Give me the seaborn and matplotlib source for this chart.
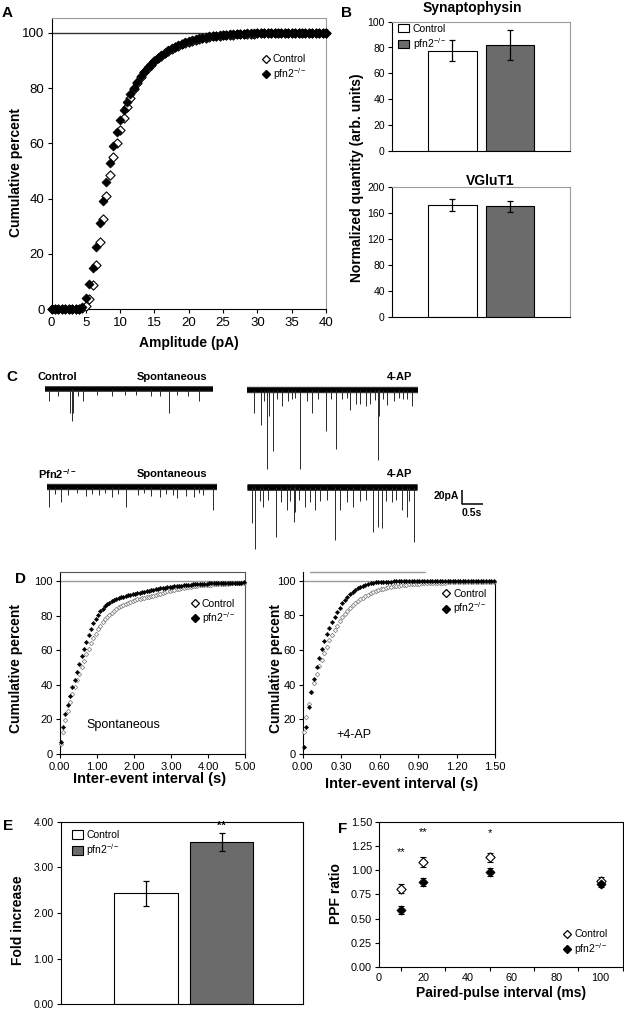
import numpy as np
import pandas as pd
import matplotlib
matplotlib.use("Agg")
import matplotlib.pyplot as plt
import seaborn as sns
from matplotlib.lines import Line2D
from matplotlib.patches import Patch
from matplotlib.ticker import FormatStrFormatter

# ------------------------------------------------------------------ data
GROUPS = ["Control", "pfn2"]
PFN2_LABEL = r"pfn2$^{-/-}$"

# Panel A: cumulative amplitude distribution (bins every 0.5 pA)
A_AMP = np.arange(0, 40.5, 0.5)
A_PFN2 = ([0] * 9 +
          [0.8, 4, 9, 15, 22.5, 31, 39, 46, 53, 59,
           64, 68.5, 72, 75, 78, 80.2, 82.4, 84.3, 86, 87.5,
           88.8, 90, 91, 92, 92.9, 93.7, 94.4, 95, 95.6, 96.1,
           96.6, 97, 97.4, 97.7, 98, 98.3, 98.5, 98.7, 98.9, 99.0,
           99.2, 99.3, 99.4, 99.5, 99.6, 99.6, 99.7, 99.7, 99.8, 99.8,
           99.8, 99.9] +
          [99.9, 99.9, 99.9, 99.9] + [100] * 16)
A_CONTROL = ([0] * 9 +
             [0.3, 1.1, 3.6, 8.7, 16, 24.4, 32.6, 41, 48.4, 55,
              60, 65, 69, 73, 76.6, 79.6, 82, 84, 85.7, 87.2,
              88.5, 89.7, 90.8, 91.8, 92.7, 93.5, 94.2, 94.8, 95.4, 95.9,
              96.4, 96.8, 97.2, 97.5, 97.8, 98.1, 98.3, 98.5, 98.7, 98.9,
              99.0, 99.1, 99.2, 99.3, 99.4, 99.5, 99.5, 99.6, 99.6, 99.7,
              99.7, 99.8] +
             [99.8, 99.8, 99.9, 99.9, 99.9, 99.9] + [100] * 14)

# Panel B: normalized quantities
SYN_MEAN = [77.5, 82.0]
SYN_ERR = [8.0, 11.5]
VGLUT_MEAN = [173.0, 171.0]
VGLUT_ERR = [9.0, 8.5]

# Panel C: trace events (time s, amplitude pA) and trace length
TRACE_DUR = [3.87, 3.95, 3.93, 3.92]
C_CTRL_SPONT_T = [0.09, 0.58, 0.62, 0.65, 0.87, 2.86, 3.55,
                  0.30, 1.20, 1.55, 2.10, 2.45, 3.05, 3.30, 0.75, 1.85, 2.65]
C_CTRL_SPONT_A = [17, 33, 44, 33, 17, 33, 17,
                  9, 8, 9, 8, 9, 8, 9, 10, 8, 9]
C_CTRL_4AP_T = [0.17, 0.32, 0.46, 0.51, 0.61, 0.81, 1.23, 1.51, 1.83, 2.06,
                2.38, 2.52, 2.61, 2.75, 2.84, 3.03, 3.05, 3.23, 3.82,
                0.40, 0.95, 1.40, 1.65, 2.20, 3.40, 3.60, 1.05, 2.95,
                0.70, 1.12, 1.95, 2.30, 3.15, 3.50, 3.70]
C_CTRL_4AP_A = [32, 49, 110, 37, 86, 23, 110, 32, 58, 82,
                28, 20, 20, 22, 20, 98, 36, 21, 23,
                15, 15, 15, 12, 12, 15, 12, 13, 14,
                12, 11, 12, 11, 12, 11, 12]
C_PFN2_SPONT_T = [0.06, 0.33, 1.83, 3.00, 3.84,
                  0.50, 0.90, 1.20, 1.50, 2.10, 2.40, 2.60, 2.90, 3.20, 3.40, 3.60,
                  0.20, 0.70, 1.05, 1.35, 1.65, 2.25, 2.75, 3.50]
C_PFN2_SPONT_A = [28, 22, 28, 16, 33,
                  12, 13, 12, 14, 12, 13, 14, 12, 13, 14, 12,
                  10, 9, 10, 9, 10, 9, 10, 9]
C_PFN2_4AP_T = [0.13, 0.18, 0.38, 0.68, 0.92, 1.09, 1.11, 1.34, 1.57, 2.03,
                2.15, 2.46, 2.92, 3.03, 3.11, 3.57, 3.69, 3.86,
                0.30, 0.50, 0.80, 1.00, 1.20, 1.45, 1.70, 1.85, 2.30, 2.60,
                2.75, 3.20, 3.35, 3.45, 3.75]
C_PFN2_4AP_A = [51, 87, 28, 70, 33, 49, 35, 28, 33, 74,
                33, 28, 63, 56, 58, 33, 42, 78,
                20, 18, 22, 20, 18, 22, 20, 18, 22, 20,
                18, 20, 22, 18, 20]
SCALE_T, SCALE_PA = 0.5, 20

# Panel D: cumulative inter-event interval distributions
D_SP_T = 0.03 + 0.0625 * np.arange(80)
D_SP_PFN2 = [6.7, 15.5, 23, 28.5, 33.5, 38.5, 43, 47.5, 52, 56.5,
             61, 65, 68.8, 72.3, 75.5, 78.3, 80.6, 82.5, 84.1, 85.5,
             86.6, 87.5, 88.3, 89, 89.6, 90.1, 90.6, 91.1, 91.5, 91.9,
             92.2, 92.5, 92.8, 93.0, 93.3, 93.5, 93.8, 94.1, 94.4, 94.7,
             95.0, 95.3, 95.5, 95.8, 96.0, 96.2, 96.4, 96.6, 96.7, 96.9,
             97.1, 97.3, 97.4, 97.6, 97.7, 97.9, 98.0, 98.1, 98.2, 98.3,
             98.4, 98.5, 98.6, 98.6, 98.7, 98.7, 98.8, 98.8, 98.9, 98.9,
             99.0, 99.0, 99.0, 99.1, 99.1, 99.1, 99.2, 99.2, 99.2, 99.3]
D_SP_CONTROL = [5.5, 12.5, 19.5, 25, 30, 34.5, 38.8, 42.8, 46.5, 50.3,
                54, 57.6, 61, 64.1, 67, 69.7, 72.1, 74.2, 76.1, 77.8,
                79.3, 80.6, 81.8, 82.9, 83.9, 84.8, 85.6, 86.3, 87, 87.6,
                88.1, 88.6, 89.0, 89.4, 89.7, 90.0, 90.3, 90.6, 90.9, 91.2,
                91.6, 92.0, 92.4, 92.8, 93.2, 93.6, 94.0, 94.3, 94.6, 94.9,
                95.2, 95.5, 95.8, 96.1, 96.4, 96.6, 96.8, 97.0, 97.2, 97.4,
                97.5, 97.6, 97.7, 97.8, 97.9, 98.0, 98.1, 98.2, 98.3, 98.4,
                98.5, 98.6, 98.6, 98.7, 98.8, 98.8, 98.9, 98.9, 99.0, 99.0]
D_AP_T = 0.01 + 0.02 * np.arange(75)
D_AP_PFN2 = [4, 15.5, 27, 36, 43.5, 50, 55.5, 60.5, 65, 69,
             72.5, 76, 79, 82, 84.5, 87, 89, 90.8, 92.4, 93.7,
             94.8, 95.7, 96.5, 97.1, 97.7, 98.1, 98.5, 98.8, 99.0, 99.2,
             99.3, 99.4, 99.5,
             99.5, 99.5, 99.6, 99.6, 99.6, 99.6, 99.7, 99.7, 99.7, 99.7,
             99.7, 99.7, 99.8, 99.8, 99.8, 99.8, 99.8, 99.8, 99.8, 99.8,
             99.8, 99.8, 99.8, 99.8, 99.9, 99.9, 99.9, 99.9, 99.9, 99.9,
             99.9, 99.9, 99.9, 99.9, 99.9, 99.9, 99.9, 99.9, 99.9, 99.9,
             99.9, 99.9]
D_AP_CONTROL = [12.5, 21.5, 29, 35.5, 41, 46, 50.5, 54.5, 58.5, 62,
                65.5, 68.5, 71.5, 74, 76.5, 78.8, 80.8, 82.6, 84.2, 85.7,
                87, 88.2, 89.3, 90.3, 91.2, 92, 92.7, 93.4, 94, 94.5,
                95, 95.4, 95.8, 96.1, 96.4, 96.7, 97, 97.2, 97.4, 97.6,
                97.8, 97.9, 98.0, 98.1, 98.2, 98.3, 98.4, 98.5, 98.6, 98.6,
                98.7,
                98.7, 98.8, 98.8, 98.9, 98.9, 99.0, 99.0, 99.0, 99.1, 99.1,
                99.1, 99.2, 99.2, 99.2, 99.3, 99.3, 99.3, 99.4, 99.4, 99.4,
                99.4, 99.5, 99.5, 99.5]

# Panel E: fold increase
E_MEAN = [2.43, 3.55]
E_ERR = [0.27, 0.20]
E_SIG = [(1, 3.92, "**")]

# Panel F: paired-pulse ratio
F_INTERVAL = [10, 20, 50, 100]
F_CONTROL = [0.81, 1.08, 1.13, 0.89]
F_CONTROL_ERR = [0.05, 0.05, 0.05, 0.04]
F_PFN2 = [0.59, 0.88, 0.98, 0.86]
F_PFN2_ERR = [0.04, 0.04, 0.04, 0.03]
F_SIG = [(10, 1.19, "**"), (20, 1.39, "**"), (50, 1.38, "*")]

# ------------------------------------------------------------------ style
W, H = 624, 1009
sns.set_style("white")
plt.rcParams.update({
    "font.family": ["Liberation Sans", "DejaVu Sans"],
    "mathtext.default": "regular",
    "axes.edgecolor": "black", "axes.linewidth": 0.8,
    "xtick.bottom": True, "ytick.left": True,
    "xtick.direction": "out", "ytick.direction": "out",
    "xtick.major.size": 3, "ytick.major.size": 3,
    "xtick.minor.size": 3, "xtick.minor.width": 0.8,
    "xtick.major.width": 0.8, "ytick.major.width": 0.8,
    "xtick.color": "black", "ytick.color": "black",
    "text.color": "black", "axes.labelcolor": "black",
    "xtick.major.pad": 2.5, "ytick.major.pad": 2,
})
GRAY = "#6b6b6b"
fig = plt.figure(figsize=(W / 100, H / 100), dpi=100)


def px_axes(x0, y0, x1, y1):
    return fig.add_axes([x0 / W, 1 - y1 / H, (x1 - x0) / W, (y1 - y0) / H])


def fig_text(x, y, s, **kw):
    fig.text(x / W, 1 - y / H, s, **kw)


def frame(ax, color):
    for sp in ("top", "right"):
        ax.spines[sp].set_color(color)


def marker_legend(ax, anchor, size=7.5, ms=5.5):
    handles = [Line2D([], [], ls="none", marker="D", ms=ms * 0.75, mfc="white",
                      mec="black", mew=0.9),
               Line2D([], [], ls="none", marker="D", ms=ms * 0.75, mfc="black",
                      mec="black")]
    ax.legend(handles, ["Control", PFN2_LABEL], loc="upper right",
              bbox_to_anchor=anchor, frameon=False, fontsize=size,
              handletextpad=0.2, borderpad=0, borderaxespad=0,
              labelspacing=0.15, handlelength=1.0)


def bar_legend(ax, anchor, size=7.5):
    handles = [Patch(facecolor="white", edgecolor="black", lw=0.8),
               Patch(facecolor=GRAY, edgecolor="black", lw=0.8)]
    ax.legend(handles, ["Control", PFN2_LABEL], loc="upper left",
              bbox_to_anchor=anchor, frameon=False, fontsize=size,
              handletextpad=0.3, borderpad=0, borderaxespad=0,
              labelspacing=0.2, handlelength=1.1, handleheight=0.9)


# ------------------------------------------------------------------ panel A
axA = px_axes(51.5, 18, 326, 309)
sns.scatterplot(x=A_AMP, y=A_CONTROL, marker="D", s=22, color="white",
                edgecolor="black", linewidth=0.8, ax=axA, zorder=3, clip_on=False)
sns.scatterplot(x=A_AMP, y=A_PFN2, marker="D", s=22, color="black",
                edgecolor="black", linewidth=0.4, ax=axA, zorder=4, clip_on=False)
axA.axhline(100, color="#333333", lw=1.0, zorder=2)
axA.set_xlim(0, 40)
axA.set_ylim(0, 105.4)
axA.set_xticks(range(0, 41, 5))
axA.set_yticks(range(0, 101, 20))
axA.tick_params(labelsize=9.5)
frame(axA, "#9a9a9a")
axA.set_ylabel("Cumulative percent", fontsize=10, fontweight="bold")
axA.set_xlabel("Amplitude (pA)", fontsize=10, fontweight="bold", va="top")
axA.yaxis.set_label_coords(-0.104, 0.469)
axA.xaxis.set_label_coords(0.5, -0.094)
marker_legend(axA, (0.93, 0.875))

# ------------------------------------------------------------------ panel B
def bar_panel(ax, means, errs, ylim, yticks, tick_size):
    df = pd.DataFrame({"group": GROUPS, "value": means})
    sns.barplot(data=df, x="group", y="value", hue="group",
                palette={"Control": "white", "pfn2": GRAY}, width=0.84,
                edgecolor="black", linewidth=0.8, legend=False, ax=ax)
    ax.errorbar(range(len(means)), means, yerr=errs, fmt="none", ecolor="black",
                elinewidth=0.9, capsize=2.5, capthick=0.9, zorder=5)
    ax.set_ylim(*ylim)
    ax.set_yticks(yticks)
    ax.set_xticks([])
    ax.set_xlabel("")
    ax.set_ylabel("")
    ax.tick_params(labelsize=tick_size)


axB1 = px_axes(391.7, 21.7, 570, 150.7)
bar_panel(axB1, SYN_MEAN, SYN_ERR, (0, 100), range(0, 101, 20), 7.5)
axB1.set_xlim(-1.06, 2.05)
frame(axB1, "#9a9a9a")
bar_legend(axB1, (0.035, 0.985))

axB2 = px_axes(391.7, 187.3, 570, 317.3)
bar_panel(axB2, VGLUT_MEAN, VGLUT_ERR, (0, 200), range(0, 201, 40), 7.5)
axB2.set_xlim(-1.06, 2.05)
frame(axB2, "#9a9a9a")

fig_text(472, 8, "Synaptophysin", fontsize=10, fontweight="bold", ha="center", va="center")
fig_text(490, 181, "VGluT1", fontsize=10, fontweight="bold", ha="center", va="center")
fig_text(357.5, 177.5, "Normalized quantity (arb. units)", fontsize=10,
         fontweight="bold", rotation=90, ha="center", va="center")

# ------------------------------------------------------------------ panel C
PX_PER_S = 43.4
PX_PER_PA = 0.715
Y_TOP, Y_BOT = 15, -115


def trace_ax(x0, base, xmax):
    ax = px_axes(x0, base - Y_TOP * PX_PER_PA, x0 + xmax * PX_PER_S,
                 base - Y_BOT * PX_PER_PA)
    ax.set_xlim(0, xmax)
    ax.set_ylim(Y_BOT, Y_TOP)
    ax.axis("off")
    return ax


def draw_trace(ax, dur, ts, amps, band):
    ax.hlines(0, 0, dur, color="#3a3a3a", lw=band + 1.6, capstyle="butt")
    ax.hlines(0, 0, dur, color="black", lw=band, capstyle="butt")
    ax.vlines(ts, -np.asarray(amps), 0, color="#2a2a2a", lw=0.7)


ax_c1 = trace_ax(45, 389.3, TRACE_DUR[0])
draw_trace(ax_c1, TRACE_DUR[0], C_CTRL_SPONT_T, C_CTRL_SPONT_A, 2.6)
ax_c2 = trace_ax(246.7, 390, TRACE_DUR[1])
draw_trace(ax_c2, TRACE_DUR[1], C_CTRL_4AP_T, C_CTRL_4AP_A, 3.0)
ax_c3 = trace_ax(46.7, 486.7, TRACE_DUR[2])
draw_trace(ax_c3, TRACE_DUR[2], C_PFN2_SPONT_T, C_PFN2_SPONT_A, 3.0)
ax_c4 = trace_ax(246.7, 486.7, 5.6)
draw_trace(ax_c4, TRACE_DUR[3], C_PFN2_4AP_T, C_PFN2_4AP_A, 3.4)
# scale bar
sb_t0, sb_y0 = 4.95, -24.6
ax_c4.plot([sb_t0, sb_t0, sb_t0 + SCALE_T], [sb_y0 + SCALE_PA, sb_y0, sb_y0],
           color="black", lw=1.1, solid_capstyle="butt")
ax_c4.text(sb_t0 - 0.06, sb_y0 + SCALE_PA * 0.6, f"{SCALE_PA}pA", fontsize=7.5,
           fontweight="bold", ha="right", va="center")
ax_c4.text(sb_t0 + SCALE_T * 0.45, sb_y0 - 12.5, f"{SCALE_T}s", fontsize=7.5,
           fontweight="bold", ha="center", va="center")

fig_text(37, 377, "Control", fontsize=8, fontweight="bold", ha="left", va="center")
fig_text(207, 377, "Spontaneous", fontsize=8, fontweight="bold", ha="right", va="center")
fig_text(412, 377, "4-AP", fontsize=8, fontweight="bold", ha="right", va="center")
fig_text(38, 474, r"Pfn2$^{-/-}$", fontsize=8, fontweight="bold", ha="left", va="center")
fig_text(207, 474, "Spontaneous", fontsize=8, fontweight="bold", ha="right", va="center")
fig_text(412, 474, "4-AP", fontsize=8, fontweight="bold", ha="right", va="center")

# ------------------------------------------------------------------ panel D
def cdf_panel(ax, t, ctrl, pfn2):
    sns.scatterplot(x=t, y=ctrl, marker="D", s=5, color="white",
                    edgecolor="#8a8a8a", linewidth=0.6, ax=ax, zorder=3, clip_on=False)
    sns.scatterplot(x=t, y=pfn2, marker="D", s=5, color="black",
                    edgecolor="black", linewidth=0.3, ax=ax, zorder=4, clip_on=False)
    ax.axhline(100, color="#9a9a9a", lw=1.0, zorder=2)
    ax.set_yticks(range(0, 101, 20))
    ax.tick_params(labelsize=8)
    ax.xaxis.set_major_formatter(FormatStrFormatter("%.2f"))
    ax.set_ylabel("Cumulative percent", fontsize=10, fontweight="bold")
    ax.set_xlabel("Inter-event interval (s)", fontsize=10.5, fontweight="bold", va="top")


axD1 = px_axes(59.7, 572.3, 245, 754)
cdf_panel(axD1, D_SP_T, D_SP_CONTROL, D_SP_PFN2)
axD1.set_xlim(0, 5)
axD1.set_ylim(0, 105.1)
axD1.set_xticks(np.arange(0, 5.01, 1.0))
frame(axD1, "#555555")
axD1.yaxis.set_label_coords(-0.198, 0.47)
axD1.xaxis.set_label_coords(0.487, -0.1)
axD1.text(0.145, 0.16, "Spontaneous", transform=axD1.transAxes, fontsize=9,
          ha="left", va="center")
marker_legend(axD1, (0.95, 0.855))

axD2 = px_axes(302.5, 571.7, 495, 754)
cdf_panel(axD2, D_AP_T, D_AP_CONTROL, D_AP_PFN2)
axD2.set_xlim(0, 1.5)
axD2.set_ylim(0, 105.2)
axD2.set_xticks(np.arange(0, 1.51, 0.3))
axD2.spines["top"].set_visible(False)
axD2.spines["right"].set_bounds(0, 100)
axD2.plot([0.04, 0.636], [1, 1], transform=axD2.transAxes, color="#9a9a9a",
          lw=1.0, clip_on=False)
axD2.yaxis.set_label_coords(-0.1, 0.47)
axD2.xaxis.set_label_coords(0.515, -0.125)
axD2.text(0.175, 0.105, "+4-AP", transform=axD2.transAxes, fontsize=9,
          ha="left", va="center")
marker_legend(axD2, (0.96, 0.905))

# ------------------------------------------------------------------ panel E
axE = px_axes(60.7, 821.7, 303.3, 1004.3)
bar_panel(axE, E_MEAN, E_ERR, (0, 4), np.arange(0, 4.01, 1.0), 7.5)
axE.set_xlim(-1.127, 2.078)
axE.yaxis.set_major_formatter(FormatStrFormatter("%.2f"))
axE.set_ylabel("Fold increase", fontsize=10, fontweight="bold")
axE.yaxis.set_label_coords(-0.147, 0.462)
for x, y, s in E_SIG:
    axE.text(x, y, s, fontsize=8, fontweight="bold", ha="center", va="center")
bar_legend(axE, (0.045, 0.955))

# ------------------------------------------------------------------ panel F
axF = px_axes(379, 821.5, 622.7, 967.3)
axF.errorbar(F_INTERVAL, F_CONTROL, yerr=F_CONTROL_ERR, fmt="none", ecolor="black",
             elinewidth=0.8, capsize=2, capthick=0.8, zorder=2)
axF.errorbar(F_INTERVAL, F_PFN2, yerr=F_PFN2_ERR, fmt="none", ecolor="black",
             elinewidth=0.8, capsize=2, capthick=0.8, zorder=2)
sns.scatterplot(x=F_INTERVAL, y=F_CONTROL, marker="D", s=22, color="white",
                edgecolor="black", linewidth=0.8, ax=axF, zorder=3)
sns.scatterplot(x=F_INTERVAL, y=F_PFN2, marker="D", s=22, color="black",
                edgecolor="black", linewidth=0.5, ax=axF, zorder=3)
axF.set_xlim(0, 110)
axF.set_ylim(0, 1.5)
axF.set_xticks(range(0, 101, 20))
axF.set_xticks(range(10, 111, 20), minor=True)
axF.tick_params(axis="x", which="major", length=0, pad=4)
axF.tick_params(axis="x", which="minor", bottom=True, length=3)
axF.set_yticks(np.arange(0, 1.51, 0.25))
axF.yaxis.set_major_formatter(FormatStrFormatter("%.2f"))
axF.tick_params(labelsize=7.8)
axF.set_ylabel("PPF ratio", fontsize=10, fontweight="bold")
axF.set_xlabel("Paired-pulse interval (ms)", fontsize=10, fontweight="bold", va="top")
axF.yaxis.set_label_coords(-0.146, 0.508)
axF.xaxis.set_label_coords(0.5, -0.13)
for x, y, s in F_SIG:
    axF.text(x, y, s, fontsize=8, ha="center", va="center")
marker_legend(axF, (0.94, 0.26))

# ------------------------------------------------------------------ panel letters
for (x, y, s) in [(7.5, 13.3, "A"), (346.7, 13.3, "B"), (11.7, 377, "C"),
                  (20, 579, "D"), (8, 826, "E"), (343, 829, "F")]:
    fig_text(x, y, s, fontsize=11, fontweight="bold", ha="center", va="center")

fig.savefig("out.png", dpi=100)
